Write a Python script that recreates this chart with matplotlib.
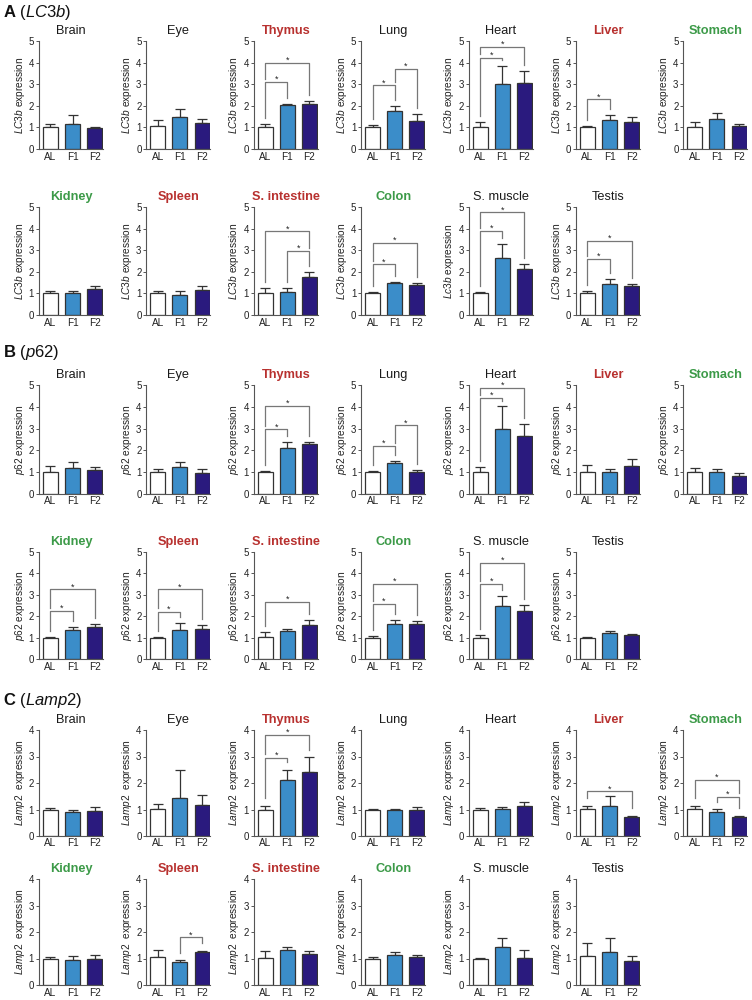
import matplotlib
matplotlib.use('Agg')
import matplotlib.pyplot as plt
import numpy as np

plt.rcParams['font.family'] = ['Liberation Sans', 'DejaVu Sans']
plt.rcParams['mathtext.fontset'] = 'custom'
plt.rcParams['mathtext.rm'] = 'Liberation Sans'
plt.rcParams['mathtext.it'] = 'Liberation Sans:italic'
plt.rcParams['mathtext.bf'] = 'Liberation Sans:bold'

groups = ['AL', 'F1', 'F2']
organs = ['Brain', 'Eye', 'Thymus', 'Lung', 'Heart', 'Liver', 'Stomach',
          'Kidney', 'Spleen', 'S. intestine', 'Colon', 'S. muscle', 'Testis']
organ_colors = ['black', 'black', 'red', 'black', 'black', 'red', 'green',
                'green', 'red', 'red', 'green', 'black', 'black']

# LC3b
lc3b_mean = [
    [1.02, 1.18, 0.95],  # Brain
    [1.05, 1.48, 1.20],  # Eye
    [1.00, 2.05, 2.08],  # Thymus
    [1.00, 1.77, 1.30],  # Lung
    [1.03, 3.03, 3.07],  # Heart
    [1.00, 1.33, 1.27],  # Liver
    [1.03, 1.38, 1.05],  # Stomach
    [1.00, 1.02, 1.22],  # Kidney
    [1.00, 0.93, 1.15],  # Spleen
    [1.03, 1.07, 1.77],  # S. intestine
    [1.00, 1.48, 1.38],  # Colon
    [1.00, 2.65, 2.15],  # S. muscle
    [1.00, 1.45, 1.32],  # Testis
]
lc3b_err = [
    [0.15, 0.40, 0.07],
    [0.27, 0.38, 0.18],
    [0.17, 0.03, 0.12],
    [0.10, 0.22, 0.32],
    [0.20, 0.80, 0.55],
    [0.08, 0.24, 0.23],
    [0.20, 0.27, 0.13],
    [0.10, 0.10, 0.14],
    [0.10, 0.20, 0.21],
    [0.20, 0.20, 0.23],
    [0.08, 0.05, 0.10],
    [0.08, 0.63, 0.23],
    [0.10, 0.23, 0.10],
]
lc3b_sig = {
    'Thymus': [(0, 1, 3.1), (0, 2, 4.0)],
    'Lung': [(0, 1, 2.95), (1, 2, 3.7)],
    'Heart': [(0, 1, 4.23), (0, 2, 4.72)],
    'Liver': [(0, 1, 2.3)],
    'S. intestine': [(1, 2, 2.97), (0, 2, 3.87)],
    'Colon': [(0, 1, 2.35), (0, 2, 3.33)],
    'S. muscle': [(0, 1, 3.9), (0, 2, 4.75)],
    'Testis': [(0, 1, 2.6), (0, 2, 3.42)],
}

# p62
p62_mean = [
    [1.03, 1.17, 1.10],
    [1.03, 1.22, 0.98],
    [1.00, 2.10, 2.28],
    [1.00, 1.43, 1.00],
    [1.03, 3.00, 2.65],
    [1.03, 1.03, 1.28],
    [1.03, 1.03, 0.83],
    [1.00, 1.37, 1.50],
    [1.00, 1.35, 1.40],
    [1.03, 1.30, 1.60],
    [1.00, 1.62, 1.62],
    [1.00, 2.50, 2.22],
    [1.00, 1.22, 1.10],
]
p62_err = [
    [0.24, 0.29, 0.12],
    [0.13, 0.27, 0.15],
    [0.07, 0.28, 0.12],
    [0.05, 0.08, 0.10],
    [0.20, 1.05, 0.55],
    [0.28, 0.12, 0.33],
    [0.16, 0.12, 0.12],
    [0.03, 0.14, 0.14],
    [0.03, 0.32, 0.20],
    [0.22, 0.09, 0.23],
    [0.08, 0.22, 0.16],
    [0.12, 0.45, 0.31],
    [0.05, 0.11, 0.08],
]
p62_sig = {
    'Thymus': [(0, 1, 2.97), (0, 2, 4.04)],
    'Lung': [(0, 1, 2.2), (1, 2, 3.15)],
    'Heart': [(0, 1, 4.4), (0, 2, 4.86)],
    'Kidney': [(0, 1, 2.24), (0, 2, 3.25)],
    'Spleen': [(0, 1, 2.21), (0, 2, 3.25)],
    'S. intestine': [(0, 2, 2.66)],
    'Colon': [(0, 1, 2.57), (0, 2, 3.5)],
    'S. muscle': [(0, 1, 3.5), (0, 2, 4.5)],
}

# Lamp2
lamp2_mean = [
    [1.00, 0.90, 0.93],
    [1.02, 1.42, 1.18],
    [1.00, 2.10, 2.43],
    [1.00, 0.98, 0.98],
    [1.00, 1.03, 1.12],
    [1.02, 1.14, 0.70],
    [1.02, 0.90, 0.70],
    [1.00, 0.96, 1.00],
    [1.07, 0.86, 1.23],
    [1.02, 1.33, 1.17],
    [1.00, 1.15, 1.05],
    [1.00, 1.43, 1.02],
    [1.08, 1.23, 0.90],
]
lamp2_err = [
    [0.04, 0.08, 0.15],
    [0.20, 1.08, 0.37],
    [0.15, 0.40, 0.54],
    [0.02, 0.03, 0.10],
    [0.04, 0.08, 0.18],
    [0.13, 0.36, 0.06],
    [0.12, 0.12, 0.06],
    [0.07, 0.14, 0.13],
    [0.25, 0.07, 0.07],
    [0.27, 0.12, 0.11],
    [0.05, 0.10, 0.08],
    [0.02, 0.36, 0.31],
    [0.50, 0.56, 0.21],
]
lamp2_sig = {
    'Thymus': [(0, 1, 2.95), (0, 2, 3.81)],
    'Liver': [(0, 2, 1.68)],
    'Stomach': [(1, 2, 1.47), (0, 2, 2.12)],
    'Spleen': [(1, 2, 1.8)],
}

bar_colors = ['white', '#3b8dc9', '#2a1a7e']
title_rgb = {'black': '#1a1a1a', 'red': '#b8312f', 'green': '#3c9a48'}
W, H = 752, 1000


def draw_panel(ax, organ, means, errs, sigs, ymax, ylabel):
    x = np.arange(3)
    ax.bar(x, means, width=0.68, color=bar_colors, edgecolor='#333333',
           linewidth=0.9, zorder=2)
    ax.errorbar(x, means, yerr=[[0, 0, 0], errs], fmt='none', ecolor='#333333',
                elinewidth=0.9, capsize=3.8, capthick=0.9, zorder=1)
    ax.set_xlim(-0.52, 2.38)
    ax.set_ylim(0, ymax)
    ax.set_yticks(range(ymax + 1))
    ax.set_xticks(x)
    ax.set_xticklabels(groups)
    for s in ['top', 'right']:
        ax.spines[s].set_visible(False)
    for s in ['left', 'bottom']:
        ax.spines[s].set_color('#555555')
        ax.spines[s].set_linewidth(0.8)
    ax.tick_params(axis='y', length=2.5, width=0.7, pad=1, labelsize=7,
                   color='#555555', labelcolor='#222222')
    ax.tick_params(axis='x', length=0, pad=1.8, labelsize=7.2, labelcolor='#222222')
    ax.set_ylabel(ylabel, fontsize=7.3, labelpad=1.5, color='#222222')
    c = organ_colors[organs.index(organ)]
    ax.set_title(organ, fontsize=9.2, pad=5, color=title_rgb[c],
                 fontweight='bold' if c != 'black' else 'normal')

    # significance brackets
    tops = np.array(means) + np.array(errs)
    for (i, j, y) in sigs:
        ends = []
        for k in (i, j):
            end = min(tops[k] + 0.28, y - 0.12)
            for (a, b, y2) in sigs:
                if y2 < y and a <= k <= b:
                    end = max(end, y2 + 0.15)
            ends.append(end)
        ax.plot([i, i, j, j], [ends[0], y, y, ends[1]], color='#777777',
                lw=0.9, clip_on=False, zorder=3)
        ax.annotate('*', xy=((i + j) / 2, y), xytext=(0, 0),
                    textcoords='offset points', ha='center', va='baseline',
                    fontsize=6.5, color='#222222', annotation_clip=False)


fig = plt.figure(figsize=(W / 100, H / 100), dpi=100)

sections = [
    ('A', 'LC3b', lc3b_mean, lc3b_err, lc3b_sig, 5, [(41, 149), (207, 315)], 13),
    ('B', 'p62', p62_mean, p62_err, p62_sig, 5, [(385, 494), (552, 659)], 352),
    ('C', 'Lamp2', lamp2_mean, lamp2_err, lamp2_sig, 4, [(730, 836), (879, 985)], 700),
]

for letter, gene, mean, err, sig, ymax, rows, head_y in sections:
    fig.text(3 / W, 1 - head_y / H, r'$\mathbf{%s}$ ($\mathit{%s}$)' % (letter, gene),
             fontsize=12, va='center', ha='left', color='#111111')
    for n, organ in enumerate(organs):
        r = 0 if n < 7 else 1
        col = n if n < 7 else n - 7
        top, bot = rows[r]
        left = 39 + 107.4 * col
        ax = fig.add_axes([left / W, 1 - bot / H, 64 / W, (bot - top) / H])
        label = gene
        if gene == 'LC3b' and organ == 'S. muscle':
            label = 'Lc3b'
        sp = r'\ ' if gene == 'Lamp2' else ''
        draw_panel(ax, organ, mean[n], err[n], sig.get(organ, []), ymax,
                   r'$\mathit{%s}%s$ expression' % (label, sp))

fig.savefig('out.png', dpi=100, facecolor='white')
